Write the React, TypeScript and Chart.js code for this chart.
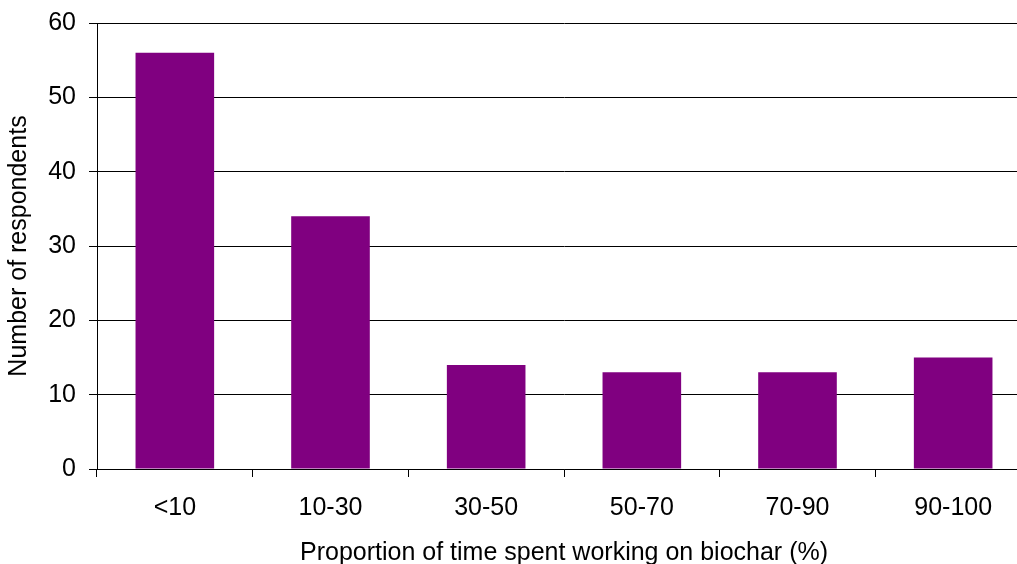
import React, { useEffect, useRef } from "react";
import { Chart, registerables } from "chart.js";

Chart.register(...registerables);

const categories = ["<10", "10-30", "30-50", "50-70", "70-90", "90-100"];
const respondents = [56, 34, 14, 13, 13, 15];
const xTitle = "Proportion of time spent working on biochar (%)";
const yTitle = "Number of respondents";

const FONT = "'Liberation Sans', Arial, sans-serif";

export default function App() {
  const ref = useRef<HTMLCanvasElement | null>(null);

  useEffect(() => {
    if (!ref.current) return;
    const chart = new Chart(ref.current, {
      type: "bar",
      data: {
        labels: categories,
        datasets: [
          {
            data: respondents,
            backgroundColor: "#800080",
            borderWidth: 0,
            barPercentage: 0.505,
            categoryPercentage: 1,
          },
        ],
      },
      options: {
        responsive: false,
        animation: false,
        devicePixelRatio: 1,
        layout: { padding: { top: 23, right: 0, left: 0, bottom: 0 } },
        plugins: { legend: { display: false }, tooltip: { enabled: false } },
        scales: {
          x: {
            offset: true,
            grid: {
              offset: true,
              drawOnChartArea: false,
              drawTicks: true,
              tickLength: 8,
              color: "#000",
              lineWidth: 1,
            },
            border: { color: "#000", width: 1 },
            ticks: {
              color: "#000",
              font: { family: FONT, size: 25 },
              padding: 16,
              maxRotation: 0,
              autoSkip: false,
            },
            title: {
              display: true,
              text: xTitle,
              color: "#000",
              font: { family: FONT, size: 25 },
              padding: { top: 0, bottom: 12 },
            },
            afterFit: (scale: any) => {
              scale.height = 111;
            },
          },
          y: {
            min: 0,
            max: 60,
            ticks: {
              stepSize: 10,
              color: "#000",
              font: { family: FONT, size: 25 },
              padding: 13,
            },
            grid: {
              color: "#000",
              lineWidth: 1,
              tickLength: 8,
              drawTicks: true,
            },
            border: { color: "#000", width: 1 },
            title: {
              display: true,
              text: yTitle,
              color: "#000",
              font: { family: FONT, size: 25 },
              padding: { top: 4, bottom: 0 },
            },
            afterFit: (scale: any) => {
              scale.width = 97;
              scale.paddingTop = 0;
              scale.paddingBottom = 0;
            },
          },
        },
      },
    });
    return () => chart.destroy();
  }, []);

  return (
    <div
      style={{
        position: "fixed",
        left: 0,
        top: 0,
        width: 1017,
        height: 564,
        overflow: "hidden",
        background: "#fff",
      }}
    >
      <canvas ref={ref} width={1031} height={580} style={{ display: "block" }} />
    </div>
  );
}
